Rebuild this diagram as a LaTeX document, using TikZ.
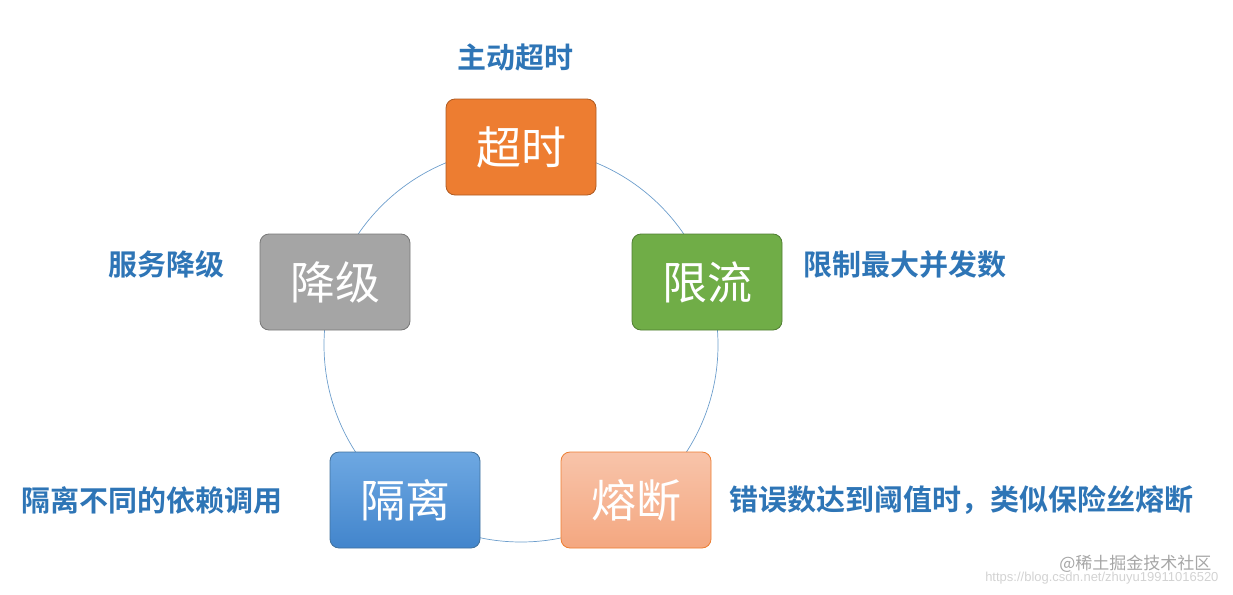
\documentclass[tikz,border=0pt]{standalone}
\usepackage{fontspec}
\newfontfamily\cjk{Noto Sans CJK SC}[BoldFont={Noto Sans CJK SC Bold}]
\newfontfamily\urlfont{Liberation Sans}
\begin{document}
\begin{tikzpicture}[x=1pt,y=-1pt,
  box/.style={rounded corners=9pt,minimum width=150pt,minimum height=96pt,text=white,font=\cjk\fontsize{45}{48}\selectfont,line width=0.8pt},
  lab/.style={text=labblue,font=\cjk\bfseries\fontsize{29}{32}\selectfont}]
\definecolor{labblue}{HTML}{2E75B6}
\useasboundingbox (0,0) rectangle (1233,594);
\draw[color=labblue!70,line width=0.7pt] (521,345) circle (197);
\node[box,fill={rgb,255:red,237;green,125;blue,49},draw={rgb,255:red,174;green,90;blue,33}] (cs) at (521,147) {超时};
\node[box,fill={rgb,255:red,112;green,173;blue,71},draw={rgb,255:red,80;green,126;blue,50}] (xl) at (707,282) {限流};
\node[box,fill={rgb,255:red,165;green,165;blue,165},draw={rgb,255:red,120;green,120;blue,120}] (jj) at (335,282) {降级};
\node[box,top color={rgb,255:red,110;green,168;blue,226},bottom color={rgb,255:red,66;green,133;blue,204},draw={rgb,255:red,65;green,113;blue,156}] (gl) at (405,500) {隔离};
\node[box,top color={rgb,255:red,248;green,196;blue,170},bottom color={rgb,255:red,244;green,167;blue,128},draw={rgb,255:red,237;green,125;blue,49}] (rd) at (636,500) {熔断};
\node[lab] (l1) at (515,57) {主动超时};
\node[lab,anchor=west] (l2) at (800,264) {限制最大并发数};
\node[lab] (l3) at (166,264) {服务降级};
\node[lab] (l4) at (152,500) {隔离不同的依赖调用};
\node[lab,anchor=west] (l5) at (726,500) {错误数达到阈值时，类似保险丝熔断};
\node[text=gray!35,font=\urlfont\fontsize{13}{15}\selectfont,anchor=east] (url) at (1222,578) {https://blog.csdn.net/zhuyu19911016520};
\node[text=gray!70,font=\cjk\fontsize{17}{19}\selectfont,anchor=east] (wm) at (1215,564) {@稀土掘金技术社区};
\end{tikzpicture}
\end{document}
